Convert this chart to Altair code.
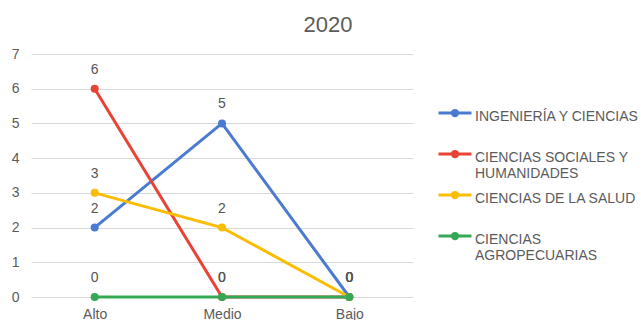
import altair as alt
import pandas as pd

# Niveles (eje X) y áreas del conocimiento
niveles = ["Alto", "Medio", "Bajo"]
areas = [
    "INGENIERÍA Y CIENCIAS",
    "CIENCIAS SOCIALES Y HUMANIDADES",
    "CIENCIAS DE LA SALUD",
    "CIENCIAS AGROPECUARIAS",
]

# Valores por área, en el orden de `niveles`
ingenieria = [2, 5, 0]
sociales = [6, 0, 0]
salud = [3, 2, 0]
agropecuarias = [0, 0, 0]

colores = ["#4a7bd0", "#ea4335", "#fbbc04", "#34a853"]

# Etiquetas de la leyenda en dos líneas (la segunda en blanco si sobra),
# así todas las entradas ocupan lo mismo
lineas_leyenda = {
    "CIENCIAS SOCIALES Y HUMANIDADES": ["CIENCIAS SOCIALES Y", "HUMANIDADES"],
    "CIENCIAS AGROPECUARIAS": ["CIENCIAS", "AGROPECUARIAS"],
}

filas = []
for area, valores in zip(areas, [ingenieria, sociales, salud, agropecuarias]):
    for nivel, v in zip(niveles, valores):
        filas.append({"nivel": nivel, "area": area, "valor": v})
df = pd.DataFrame(filas)

# Expresión para partir las etiquetas de la leyenda
expr = "[datum.label, ' ']"
for nombre, partes in lineas_leyenda.items():
    arr = "[" + ", ".join(f"'{p}'" for p in partes) + "]"
    expr = f"datum.label == '{nombre}' ? {arr} : ({expr})"

FUENTE = "Liberation Sans"
GRIS = "#5b5b5b"

# Símbolo de la leyenda: segmento con un punto, a la altura de la primera línea
sy = -0.24
simbolo = (
    f"M-1,{sy}L1,{sy}"
    f"M0.16,{sy}A0.16,0.16,0,1,1,-0.16,{sy}A0.16,0.16,0,1,1,0.16,{sy}Z"
)

x = alt.X(
    "nivel:N",
    sort=niveles,
    scale=alt.Scale(type="point", padding=0.5),
    axis=alt.Axis(title=None, labelAngle=0, ticks=False, domain=False,
                  labelPadding=10, grid=False),
)
y = alt.Y(
    "valor:Q",
    scale=alt.Scale(domain=[0, 7], nice=False),
    axis=alt.Axis(title=None, values=list(range(8)), ticks=False, domain=False,
                  labelPadding=12, gridColor="#d9d9d9", gridWidth=1),
)

lineas = alt.Chart(df).mark_line(
    strokeWidth=3,
    point=alt.OverlayMarkDef(filled=True, size=64),
).encode(
    x=x,
    y=y,
    color=alt.Color(
        "area:N",
        sort=areas,
        scale=alt.Scale(domain=areas, range=colores),
        legend=alt.Legend(
            title=None,
            orient="none",
            legendX=406,
            legendY=45,
            padding=0,
            symbolType=simbolo,
            symbolSize=1089,
            symbolStrokeWidth=3,
            labelFontSize=14,
            labelFont=FUENTE,
            labelColor=GRIS,
            labelOffset=2,
            labelLimit=300,
            rowPadding=0,
            labelExpr=expr,
        ),
    ),
)

etiquetas = alt.Chart(df).mark_text(
    dy=-19, fontSize=14, font=FUENTE, color="#555555"
).encode(x=x, y=y, text="valor:Q")

chart = alt.layer(lineas, etiquetas).properties(
    width=382,
    height=243,
    title=alt.TitleParams(
        "2020",
        fontSize=22,
        font=FUENTE,
        color=GRIS,
        fontWeight="normal",
        anchor="middle",
        dx=106,
        offset=-7,
        baseline="alphabetic",
    ),
    autosize=alt.AutoSizeParams(type="none"),
    padding={"left": 31, "top": 54, "right": 228, "bottom": 23},
).configure_view(stroke=None).configure_axis(
    labelFont=FUENTE, labelFontSize=14, labelColor=GRIS
)

chart.save("out.html", embed_options={"renderer": "svg", "actions": False})
